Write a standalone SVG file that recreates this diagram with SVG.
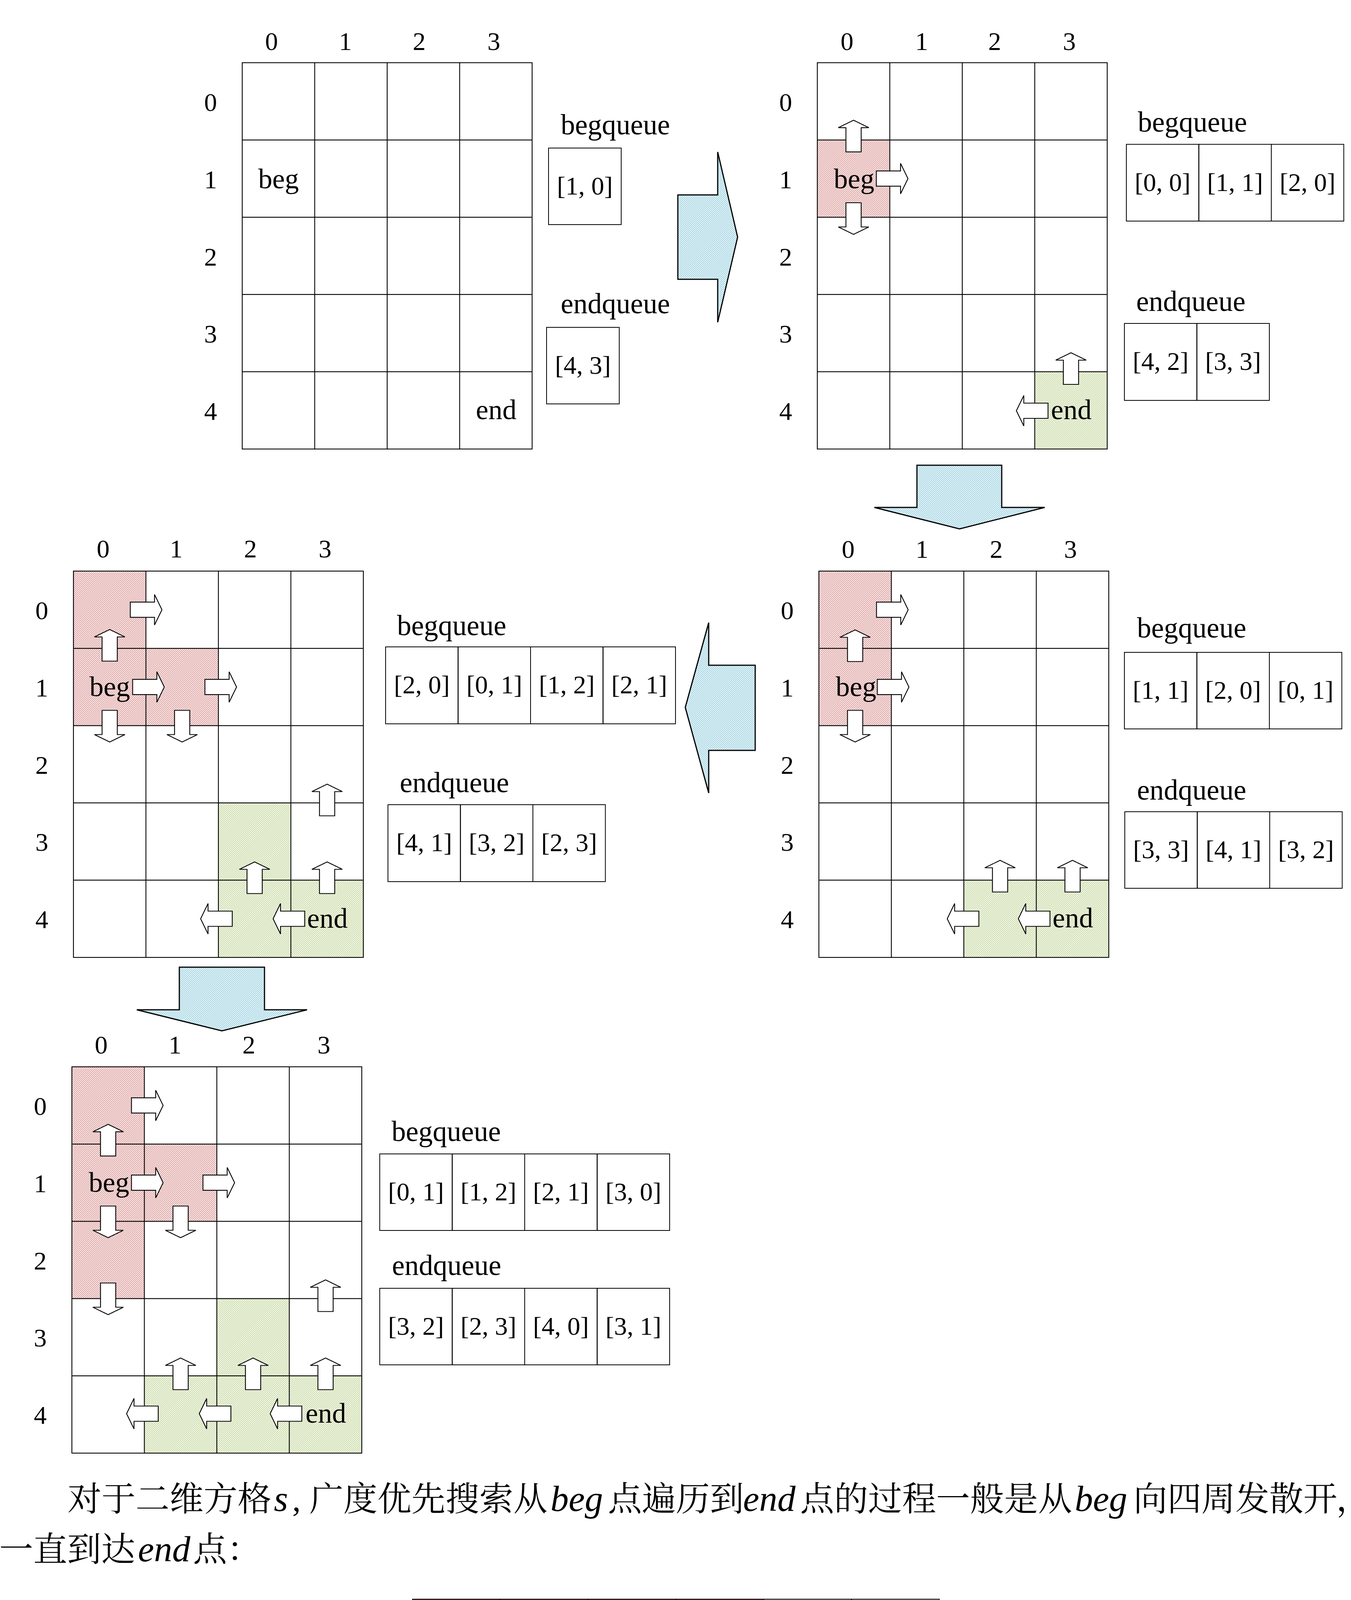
<svg xmlns="http://www.w3.org/2000/svg" xmlns:xlink="http://www.w3.org/1999/xlink" width="3458" height="5717" viewBox="0 0 3458 5717">
<defs>
<style>
.gl{fill:none;stroke:#000;stroke-width:2.2}
.bx{fill:none;stroke:#000;stroke-width:2}
.ar{fill:#fff;stroke:#000;stroke-width:2.2;stroke-linejoin:miter}
.ba{fill:url(#hb);stroke:#000;stroke-width:3;stroke-linejoin:miter}
.num{font-family:"Liberation Serif",serif;font-size:66px;text-anchor:middle;fill:#000}
.q{font-family:"Liberation Serif",serif;font-size:66px;text-anchor:middle;fill:#000}
.lab{font-family:"Liberation Serif",serif;font-size:73px;text-anchor:middle;fill:#000}
.cell{font-family:"Liberation Serif",serif;font-size:72px;text-anchor:middle;fill:#000}
.big{font-family:"Liberation Serif",serif;font-size:87px;text-anchor:middle;fill:#000}
.cn{font-family:"Noto Serif CJK SC","Noto Sans CJK SC","Noto Sans CJK JP",sans-serif;font-size:87px;fill:#000}
.m{font-family:"Liberation Serif",serif;font-style:italic;font-size:93px}
.p{font-family:"Liberation Serif",serif;font-size:87px}
.rc{fill:url(#hr)}
.gc{fill:url(#hg)}
.red{fill:#C0504D}
</style>
<pattern id="hr" patternUnits="userSpaceOnUse" width="5" height="5">
<path d="M-1,1 L1,-1 M0,5 L5,0 M4,6 L6,4" stroke="#C0504D" stroke-width="1.1"/>
</pattern>
<pattern id="hg" patternUnits="userSpaceOnUse" width="5" height="5">
<path d="M-1,1 L1,-1 M0,5 L5,0 M4,6 L6,4" stroke="#9BBB59" stroke-width="1.1"/>
</pattern>
<pattern id="hb" patternUnits="userSpaceOnUse" width="5" height="5">
<path d="M-1,1 L1,-1 M0,5 L5,0 M4,6 L6,4" stroke="#4BACC6" stroke-width="1.1"/>
</pattern>
<path id="au" class="ar" d="M0,-40.5 L39,-21.5 L19.5,-21.5 L19.5,40.5 L-19.5,40.5 L-19.5,-21.5 L-39,-21.5 Z"/>
<g id="gridlines">
<rect class="gl" x="0" y="0" width="742" height="989"/>
<path class="gl" d="M185.5,0V989M371,0V989M556.5,0V989M0,197.8H742M0,395.6H742M0,593.4H742M0,791.2H742"/>
</g>
</defs>
<rect x="0" y="0" width="3458" height="5717" fill="#fff"/>

<!-- Grid 1 -->
<g id="grid1" transform="translate(620,160.5)">
<use xlink:href="#gridlines"/>
<text class="num" x="75" y="-33">0</text><text class="num" x="264" y="-33">1</text><text class="num" x="453" y="-33">2</text><text class="num" x="644" y="-33">3</text>
<text class="num" x="-81" y="123">0</text><text class="num" x="-81" y="321">1</text><text class="num" x="-81" y="519">2</text><text class="num" x="-81" y="716">3</text><text class="num" x="-81" y="914">4</text>
<text class="cell" x="93" y="321">beg</text>
<text class="cell" x="650" y="912">end</text>
</g>
<g id="grid1-begqueue">
<text class="lab" x="1575" y="344">begqueue</text>
<rect class="bx" x="1404" y="379" width="186" height="196"/>
<text class="q" x="1497" y="498">[1, 0]</text>
</g>
<g id="grid1-endqueue">
<text class="lab" x="1575" y="802">endqueue</text>
<rect class="bx" x="1399" y="838" width="186" height="196"/>
<text class="q" x="1492" y="957">[4, 3]</text>
</g>

<!-- Grid 2 -->
<g id="grid2" transform="translate(2092,160.5)">
<rect class="rc" x="0" y="197.8" width="185.5" height="197.8"/>
<rect class="gc" x="556.5" y="791.2" width="185.5" height="197.8"/>
<use xlink:href="#gridlines"/>
<use xlink:href="#au" transform="translate(92.75,187.8)"/>
<use xlink:href="#au" transform="translate(191.5,296.7) rotate(90)"/>
<use xlink:href="#au" transform="translate(92.75,399) rotate(180)"/>
<use xlink:href="#au" transform="translate(649.25,783)"/>
<use xlink:href="#au" transform="translate(550,891) rotate(-90)"/>
<text class="num" x="76" y="-33">0</text><text class="num" x="267" y="-33">1</text><text class="num" x="454" y="-33">2</text><text class="num" x="645" y="-33">3</text>
<text class="num" x="-81" y="123">0</text><text class="num" x="-81" y="321">1</text><text class="num" x="-81" y="519">2</text><text class="num" x="-81" y="716">3</text><text class="num" x="-81" y="914">4</text>
<text class="cell" x="94" y="321">beg</text>
<text class="cell" x="650" y="912">end</text>
</g>
<g id="grid2-begqueue">
<text class="lab" x="3052" y="337">begqueue</text>
<rect class="bx" x="2883" y="369.5" width="185.5" height="196.5"/>
<rect class="bx" x="3068.5" y="369.5" width="185.5" height="196.5"/>
<rect class="bx" x="3254" y="369.5" width="185.5" height="196.5"/>
<text class="q" x="2975.75" y="488.5">[0, 0]</text>
<text class="q" x="3161.25" y="488.5">[1, 1]</text>
<text class="q" x="3346.75" y="488.5">[2, 0]</text>
</g>
<g id="grid2-endqueue">
<text class="lab" x="3048" y="796">endqueue</text>
<rect class="bx" x="2878" y="828" width="185.5" height="197"/>
<rect class="bx" x="3063.5" y="828" width="185.5" height="197"/>
<text class="q" x="2970.75" y="947">[4, 2]</text>
<text class="q" x="3156.25" y="947">[3, 3]</text>
</g>

<!-- Grid 3 -->
<g id="grid3" transform="translate(188,1462)">
<rect class="rc" x="0" y="0" width="185.5" height="197.8"/>
<rect class="rc" x="0" y="197.8" width="185.5" height="197.8"/>
<rect class="rc" x="185.5" y="197.8" width="185.5" height="197.8"/>
<rect class="gc" x="371" y="593.4" width="185.5" height="197.8"/>
<rect class="gc" x="371" y="791.2" width="185.5" height="197.8"/>
<rect class="gc" x="556.5" y="791.2" width="185.5" height="197.8"/>
<use xlink:href="#gridlines"/>
<use xlink:href="#au" transform="translate(186,98.9) rotate(90)"/>
<use xlink:href="#au" transform="translate(92.75,190)"/>
<use xlink:href="#au" transform="translate(192,296.7) rotate(90)"/>
<use xlink:href="#au" transform="translate(377,296.7) rotate(90)"/>
<use xlink:href="#au" transform="translate(92.75,397) rotate(180)"/>
<use xlink:href="#au" transform="translate(278.25,397) rotate(180)"/>
<use xlink:href="#au" transform="translate(649.25,586)"/>
<use xlink:href="#au" transform="translate(463.75,785)"/>
<use xlink:href="#au" transform="translate(649.25,785)"/>
<use xlink:href="#au" transform="translate(366,890) rotate(-90)"/>
<use xlink:href="#au" transform="translate(551.5,890) rotate(-90)"/>
<text class="num" x="76" y="-35">0</text><text class="num" x="263" y="-35">1</text><text class="num" x="453" y="-35">2</text><text class="num" x="644" y="-35">3</text>
<text class="num" x="-81" y="123">0</text><text class="num" x="-81" y="321">1</text><text class="num" x="-81" y="519">2</text><text class="num" x="-81" y="716">3</text><text class="num" x="-81" y="914">4</text>
<text class="cell" x="93" y="320">beg</text>
<text class="cell" x="650" y="913">end</text>
</g>
<g id="grid3-begqueue">
<text class="lab" x="1156" y="1626">begqueue</text>
<rect class="bx" x="987" y="1656" width="185.5" height="197"/>
<rect class="bx" x="1172.5" y="1656" width="185.5" height="197"/>
<rect class="bx" x="1358" y="1656" width="185.5" height="197"/>
<rect class="bx" x="1543.5" y="1656" width="185.5" height="197"/>
<text class="q" x="1079.75" y="1775">[2, 0]</text>
<text class="q" x="1265.25" y="1775">[0, 1]</text>
<text class="q" x="1450.75" y="1775">[1, 2]</text>
<text class="q" x="1636.25" y="1775">[2, 1]</text>
</g>
<g id="grid3-endqueue">
<text class="lab" x="1163" y="2028">endqueue</text>
<rect class="bx" x="993" y="2060" width="185.5" height="197"/>
<rect class="bx" x="1178.5" y="2060" width="185.5" height="197"/>
<rect class="bx" x="1364" y="2060" width="185.5" height="197"/>
<text class="q" x="1085.75" y="2179">[4, 1]</text>
<text class="q" x="1271.25" y="2179">[3, 2]</text>
<text class="q" x="1456.75" y="2179">[2, 3]</text>
</g>

<!-- Grid 4 -->
<g id="grid4" transform="translate(2096,1462)">
<rect class="rc" x="0" y="0" width="185.5" height="197.8"/>
<rect class="rc" x="0" y="197.8" width="185.5" height="197.8"/>
<rect class="gc" x="371" y="791.2" width="185.5" height="197.8"/>
<rect class="gc" x="556.5" y="791.2" width="185.5" height="197.8"/>
<use xlink:href="#gridlines"/>
<use xlink:href="#au" transform="translate(188,98.9) rotate(90)"/>
<use xlink:href="#au" transform="translate(92.75,191)"/>
<use xlink:href="#au" transform="translate(190,296.7) rotate(90)"/>
<use xlink:href="#au" transform="translate(92.75,397) rotate(180)"/>
<use xlink:href="#au" transform="translate(463.75,781)"/>
<use xlink:href="#au" transform="translate(649.25,781)"/>
<use xlink:href="#au" transform="translate(369,890) rotate(-90)"/>
<use xlink:href="#au" transform="translate(551,890) rotate(-90)"/>
<text class="num" x="75" y="-34">0</text><text class="num" x="264" y="-34">1</text><text class="num" x="454" y="-34">2</text><text class="num" x="644" y="-34">3</text>
<text class="num" x="-81" y="123">0</text><text class="num" x="-81" y="321">1</text><text class="num" x="-81" y="519">2</text><text class="num" x="-81" y="716">3</text><text class="num" x="-81" y="914">4</text>
<text class="cell" x="95" y="320">beg</text>
<text class="cell" x="650" y="912">end</text>
</g>
<g id="grid4-begqueue">
<text class="lab" x="3050" y="1632">begqueue</text>
<rect class="bx" x="2878" y="1670" width="185.5" height="196"/>
<rect class="bx" x="3063.5" y="1670" width="185.5" height="196"/>
<rect class="bx" x="3249" y="1670" width="185.5" height="196"/>
<text class="q" x="2970.75" y="1789">[1, 1]</text>
<text class="q" x="3156.25" y="1789">[2, 0]</text>
<text class="q" x="3341.75" y="1789">[0, 1]</text>
</g>
<g id="grid4-endqueue">
<text class="lab" x="3050" y="2047">endqueue</text>
<rect class="bx" x="2879" y="2078" width="185.5" height="196"/>
<rect class="bx" x="3064.5" y="2078" width="185.5" height="196"/>
<rect class="bx" x="3250" y="2078" width="185.5" height="196"/>
<text class="q" x="2971.75" y="2197">[3, 3]</text>
<text class="q" x="3157.25" y="2197">[4, 1]</text>
<text class="q" x="3342.75" y="2197">[3, 2]</text>
</g>

<!-- Grid 5 -->
<g id="grid5" transform="translate(184,2731)">
<rect class="rc" x="0" y="0" width="185.5" height="197.8"/>
<rect class="rc" x="0" y="197.8" width="185.5" height="197.8"/>
<rect class="rc" x="185.5" y="197.8" width="185.5" height="197.8"/>
<rect class="rc" x="0" y="395.6" width="185.5" height="197.8"/>
<rect class="gc" x="371" y="593.4" width="185.5" height="197.8"/>
<rect class="gc" x="185.5" y="791.2" width="185.5" height="197.8"/>
<rect class="gc" x="371" y="791.2" width="185.5" height="197.8"/>
<rect class="gc" x="556.5" y="791.2" width="185.5" height="197.8"/>
<use xlink:href="#gridlines"/>
<use xlink:href="#au" transform="translate(193,98.9) rotate(90)"/>
<use xlink:href="#au" transform="translate(92.75,187.8)"/>
<use xlink:href="#au" transform="translate(193,296.7) rotate(90)"/>
<use xlink:href="#au" transform="translate(376,296.7) rotate(90)"/>
<use xlink:href="#au" transform="translate(92.75,397) rotate(180)"/>
<use xlink:href="#au" transform="translate(278.25,397) rotate(180)"/>
<use xlink:href="#au" transform="translate(92.75,594) rotate(180)"/>
<use xlink:href="#au" transform="translate(649.25,586)"/>
<use xlink:href="#au" transform="translate(278.25,786)"/>
<use xlink:href="#au" transform="translate(463.75,786)"/>
<use xlink:href="#au" transform="translate(649.25,786)"/>
<use xlink:href="#au" transform="translate(180.5,888) rotate(-90)"/>
<use xlink:href="#au" transform="translate(366.5,888) rotate(-90)"/>
<use xlink:href="#au" transform="translate(548,888) rotate(-90)"/>
<text class="num" x="75" y="-34">0</text><text class="num" x="264" y="-34">1</text><text class="num" x="453" y="-34">2</text><text class="num" x="645" y="-34">3</text>
<text class="num" x="-81" y="123">0</text><text class="num" x="-81" y="321">1</text><text class="num" x="-81" y="519">2</text><text class="num" x="-81" y="716">3</text><text class="num" x="-81" y="914">4</text>
<text class="cell" x="95" y="320">beg</text>
<text class="cell" x="650" y="911">end</text>
</g>
<g id="grid5-begqueue">
<text class="lab" x="1142" y="2921">begqueue</text>
<rect class="bx" x="972" y="2954" width="185.5" height="196"/>
<rect class="bx" x="1157.5" y="2954" width="185.5" height="196"/>
<rect class="bx" x="1343" y="2954" width="185.5" height="196"/>
<rect class="bx" x="1528.5" y="2954" width="185.5" height="196"/>
<text class="q" x="1064.75" y="3073">[0, 1]</text>
<text class="q" x="1250.25" y="3073">[1, 2]</text>
<text class="q" x="1435.75" y="3073">[2, 1]</text>
<text class="q" x="1621.25" y="3073">[3, 0]</text>
</g>
<g id="grid5-endqueue">
<text class="lab" x="1143" y="3264">endqueue</text>
<rect class="bx" x="972" y="3298" width="185.5" height="196"/>
<rect class="bx" x="1157.5" y="3298" width="185.5" height="196"/>
<rect class="bx" x="1343" y="3298" width="185.5" height="196"/>
<rect class="bx" x="1528.5" y="3298" width="185.5" height="196"/>
<text class="q" x="1064.75" y="3417">[3, 2]</text>
<text class="q" x="1250.25" y="3417">[2, 3]</text>
<text class="q" x="1435.75" y="3417">[4, 0]</text>
<text class="q" x="1621.25" y="3417">[3, 1]</text>
</g>

<!-- Step connectors (block arrows) -->
<g id="connectors">
<path class="ba" d="M1735,499 H1837 V389 L1888,607 L1837,825 V715 H1735 Z"/>
<path class="ba" d="M2347,1191 H2564 V1299 H2674 L2456,1354 L2238,1299 H2347 Z"/>
<path class="ba" d="M1933,1703 V1921 H1814 V2030 L1754,1811 L1814,1594 V1703 Z"/>
<path class="ba" d="M459,2476 H677 V2585 H786 L568,2639 L350,2585 H459 Z"/>
</g>

<!-- Paragraph text -->
<g id="para1">
<text class="cn" y="3868"><tspan x="173">对于二维方格</tspan><tspan class="m" x="701">s</tspan><tspan class="p" x="748">,</tspan><tspan x="792">广度优先搜索从</tspan><tspan class="m" x="1409">beg</tspan><tspan x="1556">点遍历到</tspan><tspan class="m" x="1902">end</tspan><tspan x="2048">点的过程一般是从</tspan><tspan class="m" x="2751">beg</tspan><tspan x="2901">向四周发散开</tspan><tspan x="3420" style="letter-spacing:-52px">，</tspan></text>
<text class="cn" y="3997"><tspan x="-2">一直到达</tspan><tspan class="m" x="353">end</tspan><tspan x="494">点：</tspan></text>
</g>

<!-- Full BFS grid -->
<g id="bigGrid">
<rect class="red" x="1056" y="4094" width="898.7" height="239.2"/>
<rect class="red" x="1056" y="4333.2" width="1348" height="239.1"/>
<rect class="red" x="1056" y="4572.3" width="898.7" height="239.2"/>
<rect class="red" x="1056" y="4811.5" width="674" height="239.2"/>
<rect class="red" x="1056" y="5050.7" width="449.3" height="239.1"/>
<rect class="red" x="1056" y="5289.8" width="224.7" height="239.2"/>
<rect class="gl" x="1056" y="4094" width="1348" height="1435"/>
<path class="gl" d="M1280.7,4094V5529M1505.3,4094V5529M1730,4094V5529M1954.7,4094V5529M2179.3,4094V5529M1056,4333.2H2404M1056,4572.3H2404M1056,4811.5H2404M1056,5050.7H2404M1056,5289.8H2404"/>
<text class="big" x="1170" y="4478">beg</text>
<text class="big" x="1844" y="4958">end</text>
</g>

<g id="para2">
<text class="cn" y="5687"><tspan x="173">而双向广度优先搜索则是从</tspan><tspan class="m" x="1222">beg</tspan><tspan x="1369">和</tspan><tspan class="m" x="1459">end</tspan><tspan x="1602">两个点分别发散开，在中间相遇：</tspan></text>
</g>
</svg>
